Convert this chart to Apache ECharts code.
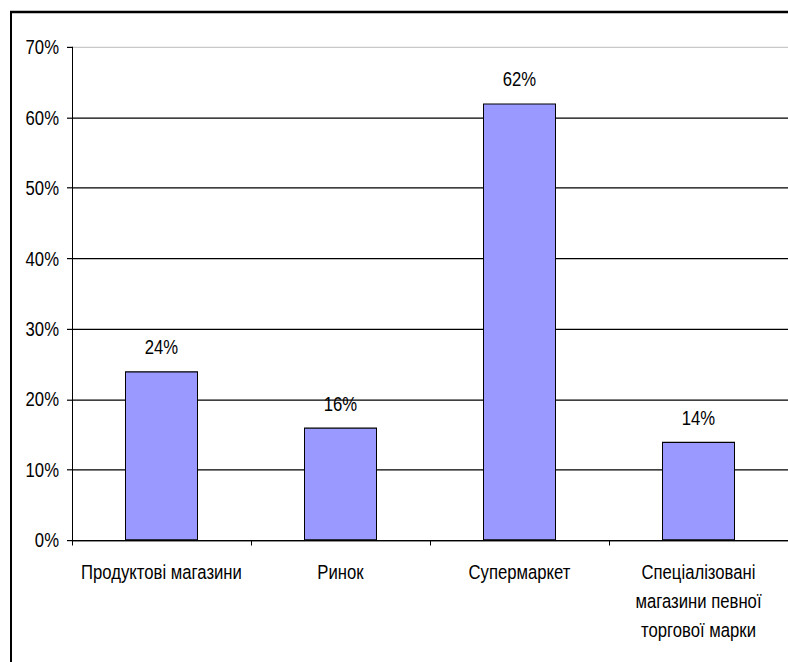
<!DOCTYPE html>
<html>
<head>
<meta charset="utf-8">
<script src="https://cdn.jsdelivr.net/npm/echarts@6/dist/echarts.min.js"></script>
<style>
  html, body { margin: 0; padding: 0; background: #fff; overflow: hidden; }
  #page { width: 788px; height: 662px; overflow: hidden; position: relative; }
  /* The chart is laid out in a shorter box and stretched vertically,
     which gives the tall, narrow lettering of the printed figure. */
  #chart {
    width: 788px;
    height: 551.667px;
    transform: scaleY(1.2);
    transform-origin: 0 0;
  }
</style>
</head>
<body>
<div id="page"><div id="chart"></div></div>
<script>
// Where people buy: share of respondents by store type
const categories = [
  'Продуктові магазини',
  'Ринок',
  'Супермаркет',
  'Спеціалізовані\nмагазини певної\nторгової марки'
];
const shares = [24, 16, 62, 14];
const yTicks = [0, 10, 20, 30, 40, 50, 60, 70];

const FONT = '"Liberation Sans", Arial, sans-serif';
const SY = 1.2; // vertical stretch applied by CSS

const chart = echarts.init(document.getElementById('chart'), null, { renderer: 'svg' });

chart.setOption({
  animation: false,
  backgroundColor: '#ffffff',
  textStyle: { fontFamily: FONT },
  grid: { left: 72, right: 0, top: 47 / SY, bottom: 551.667 - 540 / SY, containLabel: false },
  graphic: [{
    type: 'rect',
    z: 100,
    shape: { x: 11, y: 12 / SY, width: 820, height: 700 },
    style: { fill: 'none', stroke: '#000', lineWidth: 2 }
  }],
  xAxis: {
    type: 'category',
    data: categories,
    axisLine: { lineStyle: { color: '#000', width: 1 } },
    axisTick: { show: true, length: 5 / SY, lineStyle: { color: '#000' } },
    axisLabel: {
      interval: 0,
      color: '#000',
      fontFamily: FONT,
      fontSize: 16.7,
      lineHeight: 29 / SY,
      margin: 14.5
    }
  },
  yAxis: {
    type: 'value',
    min: yTicks[0],
    max: yTicks[yTicks.length - 1],
    interval: 10,
    axisLine: { show: true, lineStyle: { color: '#000', width: 1 } },
    axisTick: { show: true, length: 5, lineStyle: { color: '#000' } },
    axisLabel: {
      color: '#000',
      fontFamily: FONT,
      fontSize: 16.7,
      margin: 13,
      formatter: '{value}%'
    },
    splitLine: {
      show: true,
      lineStyle: {
        color: ['#000', '#000', '#000', '#000', '#000', '#000', '#000', '#c8c8c8'],
        width: 1
      }
    }
  },
  series: [{
    type: 'bar',
    data: shares,
    barWidth: 73,
    itemStyle: { color: '#9999ff', borderColor: '#000', borderWidth: 1 },
    label: {
      show: true,
      position: 'top',
      distance: 11.5,
      color: '#000',
      fontFamily: FONT,
      fontSize: 16.7,
      formatter: '{c}%'
    }
  }]
});
</script>
</body>
</html>
